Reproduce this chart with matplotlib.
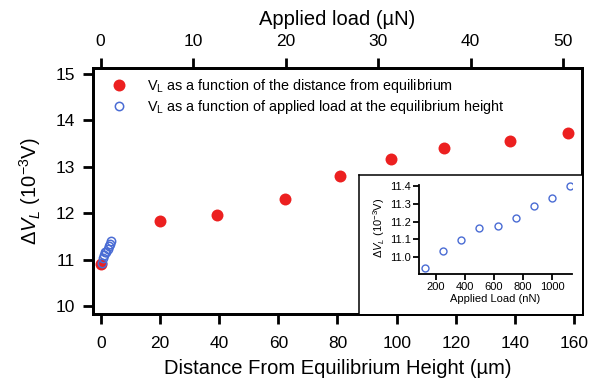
import matplotlib
matplotlib.use("Agg")
import matplotlib.pyplot as plt

# red: V_L vs distance from equilibrium height (um)
dist = [0, 20, 39.2, 62.3, 81, 98.1, 116, 138.3, 158]
vl_dist = [10.91, 11.83, 11.97, 12.30, 12.81, 13.16, 13.40, 13.55, 13.74]

# blue: V_L vs applied load at equilibrium height (nN)
load_nn = [125, 250, 375, 500, 625, 750, 875, 1000, 1125]
vl_load = [10.938, 11.034, 11.099, 11.163, 11.176, 11.222, 11.288, 11.335, 11.40]
load_un = [v / 1000.0 for v in load_nn]

bottom_ticks = [0, 20, 40, 60, 80, 100, 120, 140, 160]
top_ticks = [0, 10, 20, 30, 40, 50]
y_ticks = [10, 11, 12, 13, 14, 15]
inset_xticks = [200, 400, 600, 800, 1000]
inset_yticks = [11.0, 11.1, 11.2, 11.3, 11.4]

plt.rcParams["font.family"] = "Liberation Sans"
plt.rcParams["mathtext.fontset"] = "custom"
plt.rcParams["mathtext.rm"] = "Liberation Sans"
plt.rcParams["mathtext.it"] = "Liberation Sans:italic"

red = "#ec2020"
blue = "#4a6cd4"
W, H = 597, 381

fig = plt.figure(figsize=(W / 100, H / 100), dpi=100)
ax = fig.add_axes([92.7 / W, 1 - 314 / H, (582 - 92.7) / W, (314 - 68) / H])

ax.plot(dist, vl_dist, "o", color=red, ms=8.6, mew=0, zorder=3,
        label=r"V$_\mathregular{L}$ as a function of the distance from equilibrium")
ax.set_xlim(-2.7, 162.6)
ax.set_ylim(9.83, 15.13)
ax.set_xticks(bottom_ticks)
ax.set_yticks(y_ticks)
ax.set_xlabel("Distance From Equilibrium Height (µm)", fontsize=14.5, labelpad=6)
ax.set_ylabel(r"$\Delta V_L$ (10$^{-3}$V)", fontsize=14.5, labelpad=9)

top = ax.twiny()
top.plot(load_un, vl_load, "o", mfc="none", mec=blue, ms=6, mew=1.1, zorder=3,
         label=r"V$_\mathregular{L}$ as a function of applied load at the equilibrium height")
top.set_xlim(-0.86, 52.03)
top.set_xticks(top_ticks)
top.set_xlabel("Applied load (µN)", fontsize=14.5, labelpad=7)

for a in (ax, top):
    for s in a.spines.values():
        s.set_linewidth(2)
    a.tick_params(direction="out", length=7.5, width=2, labelsize=12.5, pad=5)
ax.tick_params(axis="x", pad=8)
top.tick_params(axis="x", pad=6)

h1, l1 = ax.get_legend_handles_labels()
h2, l2 = top.get_legend_handles_labels()
ax.legend(h1 + h2, l1 + l2, loc="upper left", bbox_to_anchor=(0.02, 0.985),
          frameon=False, fontsize=10.4, handletextpad=1.15, labelspacing=0.2,
          borderaxespad=0, handlelength=1.5)

# inset frame
frame = fig.add_axes([359 / W, 1 - 314 / H, (582 - 359) / W, (314 - 175) / H])
frame.set_xticks([])
frame.set_yticks([])
frame.spines["right"].set_visible(False)
frame.spines["bottom"].set_visible(False)
for s in ("left", "top"):
    frame.spines[s].set_linewidth(1.1)
frame.set_facecolor("white")

ins = fig.add_axes([419.3 / W, 1 - 274 / H, (571.7 - 419.3) / W, (274 - 182.4) / H])
ins.patch.set_alpha(0)
ins.plot(load_nn, vl_load, "o", mfc="none", mec=blue, ms=5, mew=1.0)
ins.set_xlim(86.8, 1135)
ins.set_ylim(10.906, 11.42)
ins.set_xticks(inset_xticks)
ins.set_yticks(inset_yticks)
ins.set_yticklabels(["%.1f" % v for v in inset_yticks])
ins.spines["right"].set_visible(False)
ins.spines["top"].set_visible(False)
ins.spines["left"].set_bounds(10.906, 11.405)
for s in ("left", "bottom"):
    ins.spines[s].set_linewidth(1.3)
ins.tick_params(direction="out", length=4, width=1.3, labelsize=8, pad=2)
ins.set_xlabel("Applied Load (nN)", fontsize=8, labelpad=1)
ins.set_ylabel(r"$\Delta V_L$ (10$^{-3}$V)", fontsize=8, labelpad=2)

fig.savefig("out.png", dpi=100)
